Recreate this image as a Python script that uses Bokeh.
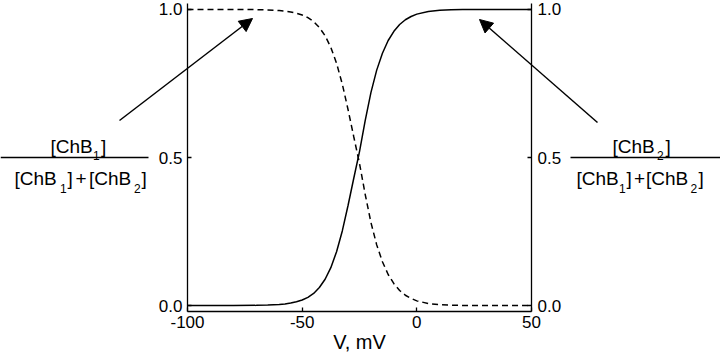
from bokeh.plotting import figure
from bokeh.models import (LinearAxis, FixedTicker, Range1d, Arrow, NormalHead,
                          Label, CustomJSTickFormatter)
from bokeh.embed import file_html
from bokeh.resources import INLINE

# ---------------- data ----------------
voltage = [-100, -90, -80, -70, -65, -60, -57.5, -55, -52.5, -50, -47.5, -45,
           -42.5, -40, -37.5, -35, -32.5, -30, -27.5, -25, -22.5, -20, -17.5,
           -15, -12.5, -10, -7.5, -5, -2.5, 0, 5, 10, 15, 20, 30, 40, 50]
chb2_fraction = [0.0, 0.00003, 0.00015, 0.0008, 0.0017, 0.0038, 0.0057, 0.0085,
                 0.013, 0.019, 0.028, 0.041, 0.061, 0.089, 0.128, 0.182, 0.252,
                 0.338, 0.43, 0.52, 0.625, 0.72, 0.795, 0.852, 0.895, 0.926,
                 0.949, 0.965, 0.976, 0.984, 0.993, 0.997, 0.9985, 0.9993,
                 0.9999, 1.0, 1.0]
chb1_fraction = [1.0, 0.99997, 0.99985, 0.9992, 0.9983, 0.9962, 0.9943, 0.9915,
                 0.987, 0.981, 0.972, 0.959, 0.939, 0.911, 0.872, 0.818, 0.748,
                 0.662, 0.57, 0.48, 0.375, 0.28, 0.205, 0.148, 0.105, 0.074,
                 0.051, 0.035, 0.024, 0.016, 0.007, 0.003, 0.0015, 0.0007,
                 0.0001, 0.0, 0.0]
x_ticks = [-100, -50, 0, 50]
x_tick_labels = ["-100", "-50", "0", "50"]
y_ticks = [0.0, 0.5, 1.0]
y_tick_labels = ["0.0", "0.5", "1.0"]
x_axis_title = "V, mV"

# ---------------- layout ----------------
W, H = 720, 354
XMIN, XMAX = -100, 50            # axis extent (data)
YMIN, YMAX = -0.02, 1.02         # axis extent (data)
AX_L, AX_R = 187, 531            # px of x=-100 and x=50
PY0, PY1 = 305.1, 8.9            # px of y=0 and y=1
XS = (XMAX - XMIN) / (AX_R - AX_L)   # data per px
YS = 1.0 / (PY0 - PY1)
X0 = XMIN - AX_L * XS
X1 = X0 + W * XS
Y1 = 1.0 + PY1 * YS
Y0 = Y1 - H * YS
FONT = "Liberation Sans"


def dx(px):
    return X0 + px * XS


def dy(py):
    return Y1 - py * YS


p = figure(width=W, height=H, output_backend="svg", toolbar_location=None,
           x_range=Range1d(X0, X1), y_range=Range1d(Y0, Y1),
           x_axis_location=None, y_axis_location=None,
           min_border=0)
p.outline_line_color = None
p.grid.grid_line_color = None
p.background_fill_color = "white"
p.border_fill_color = "white"

fmt_code = "const i = tv.indexOf(tick); return i >= 0 ? tl[i] : '';"


def style_axis(ax, standoff):
    ax.axis_line_color = "black"
    ax.axis_line_width = 1.3
    ax.major_tick_line_color = "black"
    ax.major_tick_line_width = 1.3
    ax.major_tick_in = 4
    ax.major_tick_out = 0
    ax.minor_tick_line_color = None
    ax.major_label_text_font = FONT
    ax.major_label_text_font_size = "17px"
    ax.major_label_text_color = "black"
    ax.major_label_standoff = standoff


yfmt = CustomJSTickFormatter(args=dict(tv=y_ticks, tl=y_tick_labels), code=fmt_code)
xfmt = CustomJSTickFormatter(args=dict(tv=x_ticks, tl=x_tick_labels), code=fmt_code)

left = LinearAxis(ticker=FixedTicker(ticks=y_ticks), formatter=yfmt,
                  fixed_location=XMIN, bounds=(YMIN, YMAX))
style_axis(left, 5)
p.add_layout(left, "left")

right = LinearAxis(ticker=FixedTicker(ticks=y_ticks), formatter=yfmt,
                   fixed_location=XMAX, bounds=(YMIN, YMAX))
style_axis(right, 6)
p.add_layout(right, "right")

bottom = LinearAxis(ticker=FixedTicker(ticks=x_ticks), formatter=xfmt,
                    axis_label=x_axis_title, fixed_location=YMIN,
                    bounds=(XMIN, XMAX))
style_axis(bottom, 4)
bottom.axis_label_text_font = FONT
bottom.axis_label_text_font_size = "20px"
bottom.axis_label_text_font_style = "normal"
bottom.axis_label_text_color = "black"
bottom.axis_label_standoff = 0
p.add_layout(bottom, "below")

# ---------------- curves ----------------
p.line(voltage, chb2_fraction, line_color="black", line_width=1.5)
p.line(voltage, chb1_fraction, line_color="black", line_width=1.5, line_dash="6 4")

# ---------------- arrows ----------------
for (sx, sy, ex, ey) in [(119, 120, 252, 18), (597, 122, 479, 19)]:
    p.add_layout(Arrow(end=NormalHead(size=13, fill_color="black", line_color="black",
                                      line_width=1),
                       x_start=dx(sx), y_start=dy(sy), x_end=dx(ex), y_end=dy(ey),
                       line_color="black", line_width=1.5))

# ---------------- fraction labels ----------------
MAIN, SUB = "19px", "12px"


def piece(px, py, text, size):
    p.add_layout(Label(x=dx(px), y=dy(py), text=text, text_font=FONT,
                       text_font_size=size, text_color="black",
                       text_align="left", text_baseline="alphabetic"))


def fraction(num, den, bar):
    for (px, text, sub) in num:
        piece(px, 154.5 if sub else 145.5, text, SUB if sub else MAIN)
    for (px, text, sub) in den:
        piece(px, 187.5 if sub else 177.5, text, SUB if sub else MAIN)
    p.add_layout(Arrow(end=None, x_start=dx(bar[0]), y_start=dy(157),
                       x_end=dx(bar[1]), y_end=dy(157),
                       line_color="black", line_width=1.5))


fraction([(50, "[ChB", False), (92.5, "1", True), (100.5, "]", False)],
         [(14, "[ChB", False), (59.5, "1", True), (67, "]", False), (75, "+", False),
          (88.5, "[ChB", False), (133.5, "2", True), (141, "]", False)],
         (0, 148))
fraction([(612, "[ChB", False), (656.5, "2", True), (665, "]", False)],
         [(576, "[ChB", False), (618.5, "1", True), (626, "]", False), (633.5, "+", False),
          (645.5, "[ChB", False), (690, "2", True), (698, "]", False)],
         (570, 720))

open("out.html", "w").write(file_html(p, INLINE))
